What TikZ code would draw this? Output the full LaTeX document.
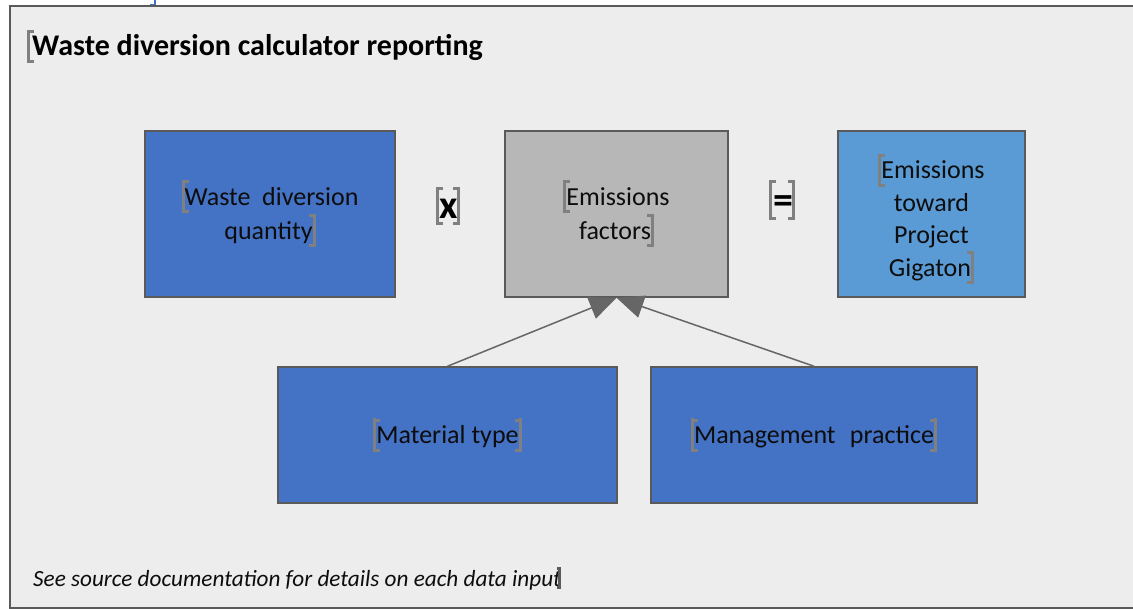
\documentclass[tikz,border=0pt]{standalone}
\usepackage{fontspec}
\setmainfont{Carlito}
\usetikzlibrary{arrows.meta}
\definecolor{bgc}{HTML}{EDEDED}
\definecolor{framec}{HTML}{5A5A5A}
\definecolor{darkblue}{HTML}{4472C4}
\definecolor{lightblue}{HTML}{5B9BD5}
\definecolor{efgray}{HTML}{B7B7B7}
\definecolor{brk}{HTML}{808080}
\definecolor{arrc}{HTML}{666666}
\definecolor{txt}{HTML}{0D0D0D}
\newcommand\wlbk[2]{\textcolor{brk}{\rule[-#1]{3pt}{#2}\kern-3pt\rule[-#1]{7pt}{3pt}\kern-7pt\rule[\dimexpr#2-#1-3pt\relax]{7pt}{3pt}}\kern-4pt}
\newcommand\wrbk[2]{\kern-4pt\textcolor{brk}{\rule[-#1]{7pt}{3pt}\kern-7pt\rule[\dimexpr#2-#1-3pt\relax]{7pt}{3pt}\kern-3pt\rule[-#1]{3pt}{#2}}}
\tikzset{
  box/.style={draw=framec, line width=1.5pt, inner sep=0pt, align=center,
    text=txt, font=\fontsize{26}{32.5}\selectfont},
  opnode/.style={inner sep=0pt, font=\fontsize{40}{44}\selectfont\bfseries, text=black},
  arr/.style={draw=arrc, line width=1.5pt, -{Triangle[length=27pt,width=23pt]}, arrc},
}
\begin{document}
\begin{tikzpicture}[x=1pt,y=-1pt]
\useasboundingbox (0,0) rectangle (1133,609);
\fill[white] (0,0) rectangle (1133,609);
\draw[framec, line width=2pt, fill=bgc] (10,6) rectangle (1145,607.5);
\draw[darkblue, line width=1.5pt] (150,4.5) -- (155,4.5) -- (155,0);

\node[anchor=base west, inner sep=0pt, font=\fontsize{30}{34}\selectfont\bfseries] (title) at (27,56)
  {\wlbk{7pt}{33pt}\kern2pt Waste diversion calculator reporting};

\node[box, fill=darkblue, minimum width=250pt, minimum height=166pt] (qty) at (270,214)
  {\wlbk{8pt}{33pt}Waste\hspace{0.45em}diversion\\quantity\wrbk{8pt}{33pt}};
\node[box, fill=efgray, minimum width=223pt, minimum height=166pt] (ef) at (616.5,214)
  {\wlbk{8pt}{33pt}Emissions\\factors\wrbk{8pt}{33pt}};
\node[box, fill=lightblue, minimum width=187pt, minimum height=166pt] (out) at (931.5,214) {};
\node[align=center, inner sep=0pt, text=txt, font=\fontsize{26}{32.5}\selectfont] (outtext) at (931.5,219)
  {\wlbk{8pt}{33pt}Emissions\\toward\\Project\\Gigaton\wrbk{8pt}{33pt}};
\node[box, fill=darkblue, minimum width=339pt, minimum height=136pt] (mat) at (447.5,435)
  {\wlbk{8pt}{33pt}Material type\wrbk{8pt}{33pt}};
\node[box, fill=darkblue, minimum width=326pt, minimum height=136pt] (mgmt) at (814,435)
  {\wlbk{8pt}{33pt}Management\hspace{0.55em}practice\wrbk{8pt}{33pt}};

\node[opnode] (opx) at (448,206) {\wlbk{6pt}{38pt}\kern1pt x\kern-1pt\wrbk{6pt}{38pt}};
\node[opnode] (opeq) at (782,200) {\wlbk{6pt}{40pt}\kern1pt =\kern-1pt\wrbk{6pt}{40pt}};

\draw[arr] (mat.north) -- (ef.south);
\draw[arr] (mgmt.north) -- (ef.south);

\node[anchor=base west, inner sep=0pt, font=\fontsize{23.2}{26}\selectfont\itshape, text=txt] (foot) at (33,586)
  {See source documentation for details on each data input\kern-4pt\textcolor{framec}{\rule[-3pt]{4pt}{3pt}\kern-4pt\rule[16pt]{4pt}{3pt}\kern-3pt\rule[-3pt]{3pt}{22pt}}};
\end{tikzpicture}
\end{document}
